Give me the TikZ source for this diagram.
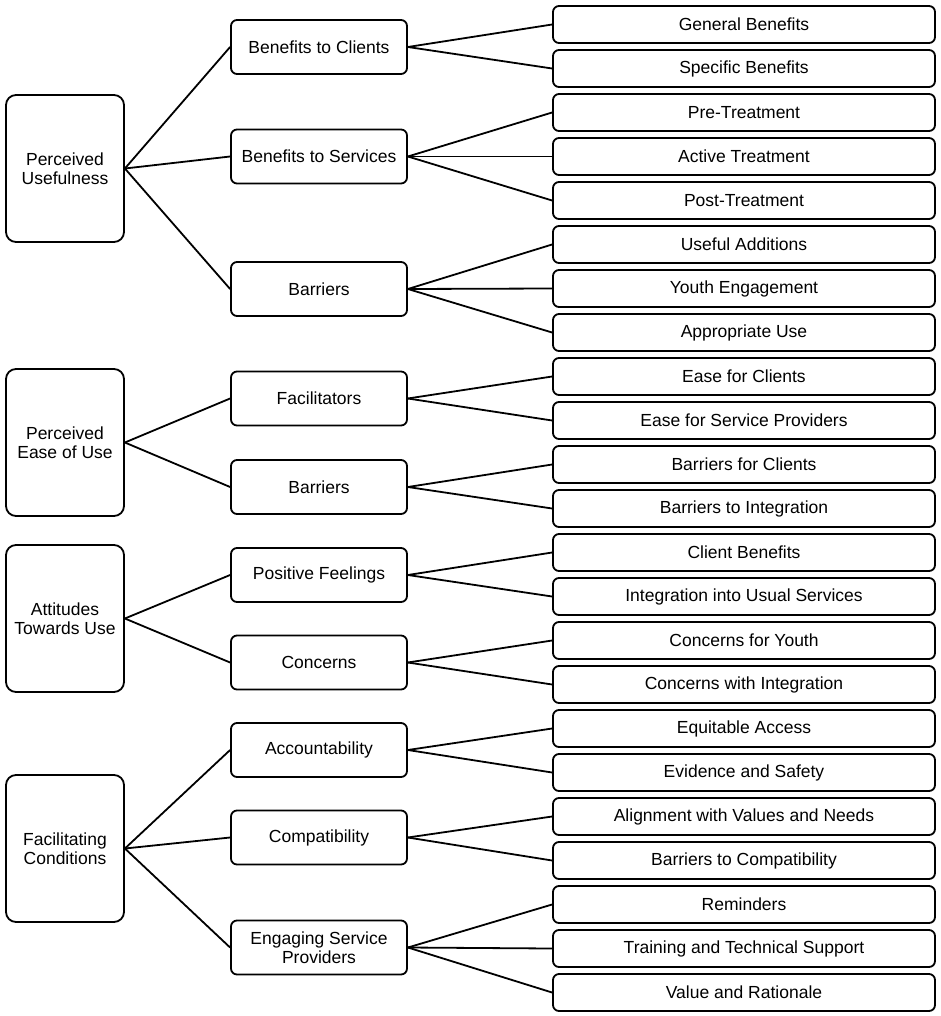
\documentclass[tikz,border=0pt]{standalone}
\usepackage{fontspec}
\setmainfont{Liberation Sans}
\usepackage{tikz}
\usetikzlibrary{positioning}
\tikzset{
    every picture/.style={line width=1.8pt},
    box/.style ={rectangle, draw, align=center, inner sep=0pt, font=\fontsize{17.5}{19}\selectfont},
    theme/.style ={box, rounded corners=10pt, minimum width=118pt, minimum height=147pt},
    category/.style ={box, rounded corners=6pt, minimum width=176pt, minimum height=54pt},
    code/.style ={box, rounded corners=6pt, minimum width=382pt, minimum height=37pt}
}

\begin{document}
\begin{tikzpicture}[x=1pt,y=-1pt]
    \useasboundingbox (0,0) rectangle (940,1016);

    % themes
    \node[theme] (pu)  at (65,168.5) {Perceived\\Usefulness};
    \node[theme] (peu) at (65,442.5) {Perceived\\Ease of Use};
    \node[theme] (atu) at (65,618.5) {Attitudes\\Towards Use};
    \node[theme] (fc)  at (65,848.5) {Facilitating\\Conditions};

    % categories
    \node[category] (bcl) at (319,47)    {Benefits to Clients};
    \node[category] (bse) at (319,156.5) {Benefits to Services};
    \node[category] (bar) at (319,289)   {Barriers};
    \node[category] (fac) at (319,398.5) {Facilitators};
    \node[category] (ebar) at (319,487)  {Barriers};
    \node[category] (pos) at (319,575)   {Positive Feelings};
    \node[category] (con) at (319,662.5) {Concerns};
    \node[category] (acc) at (319,750)   {Accountability};
    \node[category] (cmp) at (319,837.5) {Compatibility};
    \node[category] (esp) at (319,947.5) {Engaging Service\\Providers};

    % codes
    \node[code] (c1)  at (744,24.5)  {General Benefits};
    \node[code] (c2)  at (744,68.5)  {Specific Benefits};
    \node[code] (c3)  at (744,112.5) {Pre-Treatment};
    \node[code] (c4)  at (744,156.5) {Active Treatment};
    \node[code] (c5)  at (744,200.5) {Post-Treatment};
    \node[code] (c6)  at (744,244.5) {Useful Additions};
    \node[code] (c7)  at (744,288.5) {Youth Engagement};
    \node[code] (c8)  at (744,332.5) {Appropriate Use};
    \node[code] (c9)  at (744,376.5) {Ease for Clients};
    \node[code] (c10) at (744,420.5) {Ease for Service Providers};
    \node[code] (c11) at (744,464.5) {Barriers for Clients};
    \node[code] (c12) at (744,508.5) {Barriers to Integration};
    \node[code] (c13) at (744,552.5) {Client Benefits};
    \node[code] (c14) at (744,596.5) {Integration into Usual Services};
    \node[code] (c15) at (744,640.5) {Concerns for Youth};
    \node[code] (c16) at (744,684.5) {Concerns with Integration};
    \node[code] (c17) at (744,728.5) {Equitable Access};
    \node[code] (c18) at (744,772.5) {Evidence and Safety};
    \node[code] (c19) at (744,816.5) {Alignment with Values and Needs};
    \node[code] (c20) at (744,860.5) {Barriers to Compatibility};
    \node[code] (c21) at (744,904.5) {Reminders};
    \node[code] (c22) at (744,948.5) {Training and Technical Support};
    \node[code] (c23) at (744,992.5) {Value and Rationale};

    % theme to category
    \path (pu.east) edge (bcl.west) edge (bse.west) edge (bar.west);
    \path (peu.east) edge (fac.west) edge (ebar.west);
    \path (atu.east) edge (pos.west) edge (con.west);
    \path (fc.east) edge (acc.west) edge (cmp.west) edge (esp.west);

    % category to code
    \path (bcl.east) edge (c1.west) edge (c2.west);
    \path (bse.east) edge (c3.west) edge (c4.west) edge (c5.west);
    \path (bar.east) edge (c6.west) edge (c7.west) edge (c8.west);
    \path (fac.east) edge (c9.west) edge (c10.west);
    \path (ebar.east) edge (c11.west) edge (c12.west);
    \path (pos.east) edge (c13.west) edge (c14.west);
    \path (con.east) edge (c15.west) edge (c16.west);
    \path (acc.east) edge (c17.west) edge (c18.west);
    \path (cmp.east) edge (c19.west) edge (c20.west);
    \path (esp.east) edge (c21.west) edge (c22.west) edge (c23.west);

\end{tikzpicture}
\end{document}
